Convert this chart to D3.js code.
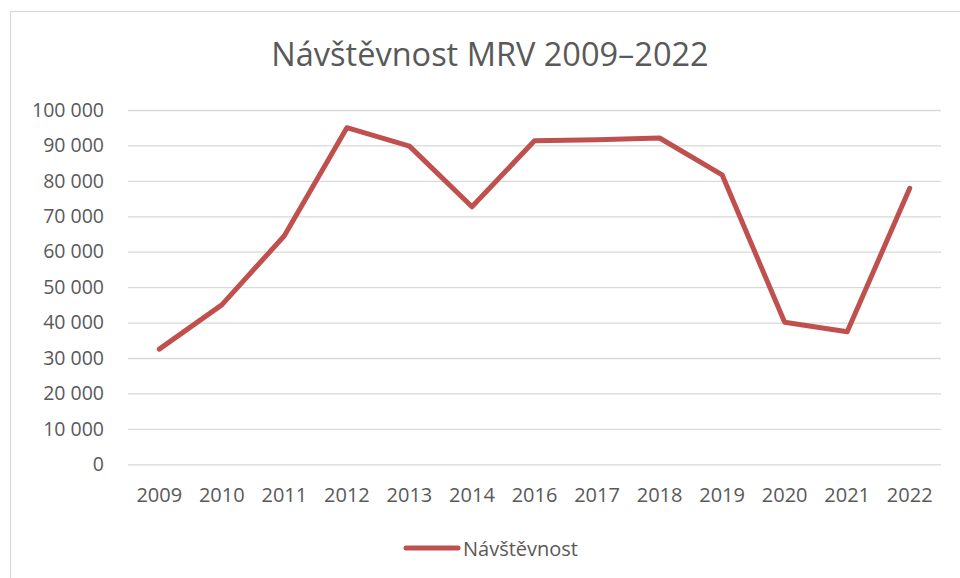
<!DOCTYPE html>
<html>
<head>
<meta charset="utf-8">
<script src="https://cdn.jsdelivr.net/npm/d3@7"></script>
<style>
  body { margin: 0; background: #fff; }
  svg { display: block; font-family: 'Open Sans', sans-serif; }
</style>
</head>
<body>
<svg></svg>
<script>
var width = 960;
var height = 578;

var title = 'Návštěvnost MRV 2009–2022';
var seriesName = 'Návštěvnost';
var years = ['2009','2010','2011','2012','2013','2014','2016','2017','2018','2019','2020','2021','2022'];
var visitors = [32500, 45000, 64500, 95000, 89800, 72700, 91300, 91600, 92100, 81700, 40100, 37400, 77900];
var yTicks = [0, 10000, 20000, 30000, 40000, 50000, 60000, 70000, 80000, 90000, 100000];

// plot area (note: "top" is reserved on window, so use own names)
var plotLeft = 128, plotRight = 941, plotTop = 110, plotBottom = 464.3;
var textColor = '#595959';
var lineColor = '#C0504D';

var svg = d3.select('svg')
    .attr('width', width)
    .attr('height', height);

// chart border
svg.append('rect')
    .attr('x', 10.5)
    .attr('y', 11.5)
    .attr('width', 1000)
    .attr('height', 1000)
    .attr('fill', 'none')
    .attr('stroke', '#d9d9d9')
    .attr('stroke-width', 1.2);

var x = d3.scaleBand().domain(years).range([plotLeft, plotRight]);
var y = d3.scaleLinear().domain([0, 100000]).range([plotBottom, plotTop]);

var fmt = function (d) { return d3.format(',')(d).replace(/,/g, ' '); };

var yAxis = d3.axisLeft(y)
    .tickValues(yTicks)
    .tickSize(-(plotRight - plotLeft))
    .tickSizeOuter(0)
    .tickPadding(24)
    .tickFormat(fmt);

var gy = svg.append('g')
    .attr('transform', `translate(${plotLeft},0)`)
    .call(yAxis);
gy.select('.domain').remove();
gy.selectAll('.tick line').attr('stroke', '#d9d9d9').attr('stroke-width', 1.3);
gy.selectAll('.tick text')
    .attr('fill', textColor)
    .style('font-size', '19.5px')
    .style('font-family', "'Open Sans', sans-serif");

var xAxis = d3.axisBottom(x)
    .tickSize(0)
    .tickPadding(24);

var gx = svg.append('g')
    .attr('transform', `translate(0,${plotBottom})`)
    .call(xAxis);
gx.select('.domain').remove();
gx.selectAll('.tick text')
    .attr('fill', textColor)
    .style('font-size', '20px')
    .style('font-family', "'Open Sans', sans-serif");

var line = d3.line()
    .x(function (d, i) { return x(years[i]) + x.bandwidth() / 2; })
    .y(function (d) { return y(d); });

svg.append('path')
    .datum(visitors)
    .attr('d', line)
    .attr('fill', 'none')
    .attr('stroke', lineColor)
    .attr('stroke-width', 5)
    .attr('stroke-linejoin', 'round')
    .attr('stroke-linecap', 'round');

svg.append('text')
    .attr('x', 490)
    .attr('y', 66)
    .attr('text-anchor', 'middle')
    .attr('fill', textColor)
    .style('font-size', '32.5px')
    .text(title);

// legend
svg.append('line')
    .attr('x1', 406).attr('x2', 458)
    .attr('y1', 548).attr('y2', 548)
    .attr('stroke', lineColor)
    .attr('stroke-width', 5)
    .attr('stroke-linecap', 'round');

svg.append('text')
    .attr('x', 463)
    .attr('y', 556)
    .attr('fill', textColor)
    .style('font-size', '20px')
    .text(seriesName);
</script>
</body>
</html>
